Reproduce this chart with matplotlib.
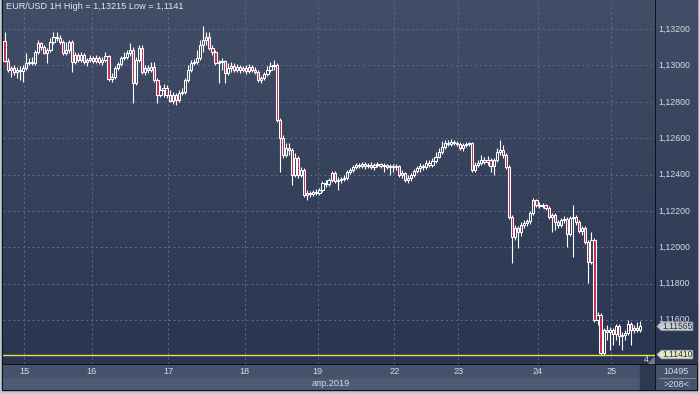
import numpy as np
import matplotlib
matplotlib.use("Agg")
import matplotlib.pyplot as plt
from matplotlib.patches import Rectangle, Polygon
from matplotlib.collections import LineCollection
from matplotlib.colors import LinearSegmentedColormap

# ---------------- data (prices in points, 1e-5) ----------------
opens = [113134,113024,112975,112986,112964,112975,112969,112986,113013,113019,
113013,113074,113123,113101,113068,113085,113129,113156,113151,113129,
113068,113085,113129,113019,113057,113030,113057,113019,113030,113041,
113024,113041,113019,113030,113052,112925,112936,112986,113008,113041,
113046,113068,113085,112903,113030,113096,112964,112986,112975,112991,
112920,112837,112865,112876,112837,112804,112837,112810,112848,112854,
112920,112975,113013,113019,113041,113112,113140,113156,113096,113074,
113013,113019,113024,112958,112986,112997,112975,112991,112975,112986,
112969,112991,112975,112964,112920,112931,112953,112975,112997,113002,
112700,112601,112507,112546,112535,112397,112491,112397,112425,112287,
112298,112293,112304,112298,112315,112353,112348,112370,112408,112364,
112370,112375,112381,112414,112425,112441,112452,112447,112458,112447,
112452,112441,112452,112458,112447,112452,112441,112447,112441,112447,
112397,112408,112370,112381,112397,112419,112436,112447,112441,112463,
112452,112474,112496,112524,112551,112573,112568,112579,112573,112568,
112546,112562,112568,112573,112425,112452,112463,112480,112469,112480,
112447,112480,112524,112535,112507,112441,112166,112056,112106,112084,
112122,112133,112144,112188,112260,112232,112227,112232,112216,112166,
112177,112139,112122,112150,112155,112073,112161,112166,112139,112089,
112106,112029,111919,112040,111600,111627,111418,111545,111534,111545,
111523,111567,111512,111517,111528,111578,111545,111556,111545]

closes = [113024,112975,112986,112964,112975,112969,112986,113013,113019,113013,
113074,113123,113101,113068,113085,113129,113156,113151,113129,113068,
113085,113129,113019,113057,113030,113057,113019,113030,113041,113024,
113041,113019,113030,113052,112925,112936,112986,113008,113041,113046,
113068,113085,112903,113030,113096,112964,112986,112975,112991,112920,
112837,112865,112876,112837,112804,112837,112810,112848,112854,112920,
112975,113013,113019,113041,113112,113140,113156,113096,113074,113013,
113019,113024,112958,112986,112997,112975,112991,112975,112986,112969,
112991,112975,112964,112920,112931,112953,112975,112997,113002,112700,
112601,112507,112546,112535,112397,112491,112397,112425,112287,112298,
112293,112304,112298,112315,112353,112348,112370,112408,112364,112370,
112375,112381,112414,112425,112441,112452,112447,112458,112447,112452,
112441,112452,112458,112447,112452,112441,112447,112441,112447,112397,
112408,112370,112381,112397,112419,112436,112447,112441,112463,112452,
112474,112496,112524,112551,112573,112568,112579,112573,112568,112546,
112562,112568,112573,112425,112452,112463,112480,112469,112480,112447,
112480,112524,112535,112507,112441,112166,112056,112106,112084,112122,
112133,112144,112188,112260,112232,112227,112232,112216,112166,112177,
112139,112122,112150,112155,112073,112161,112166,112139,112089,112106,
112029,111919,112040,111600,111627,111418,111545,111534,111545,111523,
111567,111512,111517,111528,111578,111545,111556,111545,111565]

highs = [113184,113041,112997,113002,112991,112997,113002,113068,113041,113046,
113085,113140,113129,113112,113096,113151,113184,113184,113168,113140,
113129,113140,113140,113074,113068,113074,113068,113041,113057,113052,
113057,113052,113046,113074,113057,112958,112997,113019,113052,113074,
113085,113123,113101,113046,113112,113112,113002,113002,113019,113019,
112931,112892,112898,112892,112865,112854,112848,112865,112876,112931,
113002,113030,113035,113085,113140,113215,113184,113184,113112,113085,
113030,113041,113030,113013,113019,113013,113008,113002,112997,113002,
113008,113002,112991,112975,112942,112964,112997,113019,113030,113013,
112711,112617,112573,112573,112546,112518,112502,112441,112436,112315,
112309,112315,112320,112326,112364,112370,112381,112419,112419,112386,
112386,112397,112425,112436,112452,112463,112463,112469,112469,112463,
112469,112463,112469,112463,112463,112458,112458,112458,112458,112452,
112425,112414,112397,112408,112430,112447,112463,112458,112480,112480,
112491,112524,112546,112584,112590,112590,112595,112590,112584,112579,
112573,112579,112579,112579,112469,112480,112507,112496,112502,112491,
112491,112546,112590,112562,112518,112452,112177,112122,112117,112139,
112150,112155,112199,112271,112265,112249,112243,112238,112227,112188,
112188,112150,112161,112172,112166,112172,112232,112177,112150,112117,
112117,112040,112084,112051,111644,111638,111556,111572,111561,111556,
111578,111578,111534,111545,111600,111589,111572,111589,111594]

lows = [113019,112964,112936,112947,112931,112920,112909,112975,113002,113002,
113002,113063,113085,113063,113013,113074,113118,113134,113118,113057,
113057,113068,112964,113008,113019,113019,113008,112997,113019,113013,
113013,113008,113002,113019,112914,112909,112925,112975,112997,113030,
113035,113052,112793,112892,113019,112953,112947,112958,112964,112909,
112793,112826,112826,112821,112799,112788,112782,112799,112837,112843,
112909,112964,113002,113008,113030,113074,113112,113085,113057,113002,
112903,112975,112903,112947,112964,112964,112964,112958,112964,112953,
112958,112964,112953,112909,112903,112920,112942,112964,112975,112689,
112414,112491,112496,112507,112342,112386,112381,112386,112276,112260,
112276,112282,112287,112287,112304,112331,112337,112359,112353,112315,
112353,112364,112370,112403,112414,112430,112436,112436,112430,112436,
112430,112425,112441,112436,112414,112430,112397,112414,112425,112386,
112381,112359,112353,112364,112386,112408,112414,112425,112430,112441,
112441,112463,112491,112513,112540,112557,112557,112562,112557,112535,
112529,112551,112557,112414,112414,112441,112452,112458,112452,112414,
112397,112469,112507,112491,112430,112155,111913,112040,111996,112062,
112106,112117,112128,112177,112221,112216,112216,112205,112155,112084,
112095,112106,112111,112133,112001,112062,111946,112122,112078,112067,
112018,111803,111908,111589,111572,111410,111410,111490,111435,111462,
111490,111462,111435,111490,111517,111462,111528,111534,111534]

day_labels = ['15', '16', '17', '18', '19', '22', '23', '24', '25']
day_start_bar = [7, 29, 54, 79, 103, 128, 149, 175, 199]
month_label = 'апр.2019'
price_ticks = [1.132, 1.130, 1.128, 1.126, 1.124, 1.122, 1.120, 1.118, 1.116]
symbol = 'EUR/USD 1H'
volume_text = '10495'
bars_text = '>208<'

# ---------------- helpers ----------------
O = np.array(opens) / 1e5
C = np.array(closes) / 1e5
Hh = np.array(highs) / 1e5
Ll = np.array(lows) / 1e5
n = len(O)
x = np.arange(n)

def fmt(v, nd=5):
    return f"{v:.{nd}f}".replace('.', ',')

def fmt_short(v):
    return f"{v:.5f}".rstrip('0').replace('.', ',')

W, H = 699, 394
def px(x0, y0, x1, y1):
    return [x0 / W, 1 - y1 / H, (x1 - x0) / W, (y1 - y0) / H]

plt.rcParams['font.family'] = ['Liberation Sans', 'DejaVu Sans']
TXT = '#d6dbe4'
BG_TOP = '#424d67'
BG_BOT = '#2a3651'
RED = '#c42a55'
GRID = '#5d6b85'

fig = plt.figure(figsize=(W / 100, H / 100), dpi=100, facecolor='#c4c8d0')
fig.add_artist(Rectangle((2 / W, 1 - 390 / H), 695 / W, 390 / H,
                         transform=fig.transFigure, color='#0e1219', zorder=0))

cmap = LinearSegmentedColormap.from_list('bg', [BG_BOT, BG_TOP])
grad = np.linspace(0, 1, 256).reshape(-1, 1)

YLIM = (1.11358, 1.13360)
XLIM = (-0.52, 212.8)

def clean(a):
    a.set_xticks([]); a.set_yticks([])
    for s in a.spines.values():
        s.set_visible(False)

# main plot
ax = fig.add_axes(px(3, 0, 655, 364))
ax.imshow(grad, extent=[0, 1, 0, 1], transform=ax.transAxes, aspect='auto',
          cmap=cmap, origin='lower', zorder=0)
clean(ax)
for v in price_ticks:
    ax.axhline(v, color=GRID, lw=0.7, ls=(0, (2.2, 2.8)), zorder=1)
for b in day_start_bar:
    ax.axvline(b - 0.5, color=GRID, lw=0.7, ls=(0, (2.2, 2.8)), zorder=1)

top_body = np.maximum(O, C)
bot_body = np.minimum(O, C)
segs = [[(i, Hh[i]), (i, top_body[i])] for i in range(n)] + \
       [[(i, bot_body[i]), (i, Ll[i])] for i in range(n)]
ax.add_collection(LineCollection(segs, colors='white', linewidths=0.8, zorder=2))
up = C >= O
dn = ~up
ax.bar(x[up], np.maximum(C[up] - O[up], 0.00001), bottom=O[up], width=0.72,
       facecolor='none', edgecolor='white', linewidth=0.75, zorder=3)
ax.bar(x[dn], O[dn] - C[dn], bottom=C[dn], width=0.72,
       facecolor=RED, edgecolor='white', linewidth=0.75, zorder=3)

low_v = Ll.min()
high_v = Hh.max()
last_v = C[-1]
ax.axhline(low_v, color='#e2e644', lw=1.0, zorder=4)
ax.set_xlim(*XLIM); ax.set_ylim(*YLIM)
ax.text(0.004, 0.995, f"{symbol} High = {fmt(high_v)} Low = {fmt_short(low_v)}",
        transform=ax.transAxes, ha='left', va='top', fontsize=6.6, color='#e2e6ee', zorder=6)
fig.text(646 / W, 1 - 359 / H, '4', ha='center', va='center', fontsize=6.3, color=TXT)
fig.add_artist(Polygon([(654 / W, 1 - 357 / H), (654 / W, 1 - 363 / H), (648 / W, 1 - 363 / H)],
                       closed=True, transform=fig.transFigure, color='#6d7a94', zorder=5))

# price axis panel
pa = fig.add_axes(px(656, 0, 697, 364))
pa.imshow(grad, extent=[0, 1, 0, 1], transform=pa.transAxes, aspect='auto',
          cmap=cmap, origin='lower', zorder=0)
clean(pa)
pa.set_xlim(0, 1); pa.set_ylim(*YLIM)
for v in price_ticks:
    yy = v + (0.00004 if abs(v - last_v) < 0.0006 else 0.0)
    pa.text(0.06, yy, fmt(v), ha='left', va='center', fontsize=6.3, color=TXT, zorder=2)

def tag(v, fc, text):
    hh = 0.00024
    pts = [(0.02, v), (0.13, v + hh), (0.9, v + hh), (0.9, v - hh), (0.13, v - hh)]
    pa.add_patch(Polygon(pts, closed=True, facecolor=fc, edgecolor='#8c93a0', lw=0.5, zorder=4))
    pa.text(0.53, v, text, ha='center', va='center', fontsize=6.2, color='#2a2d33', zorder=5)

tag(last_v, '#c9cdd5', fmt(last_v))
tag(low_v, '#e6e5c6', fmt(low_v))

# time panel
ta = fig.add_axes(px(3, 365, 655, 390))
clean(ta)
ta.set_xlim(*XLIM); ta.set_ylim(0, 1)
ta.add_patch(Rectangle((0, 0.5), 1, 0.5, transform=ta.transAxes, color='#46516b', zorder=0))
ta.add_patch(Rectangle((0, 0), 1, 0.5, transform=ta.transAxes, color='#4e5973', zorder=0))
ta.add_patch(Rectangle((637 / 652, 0), 15 / 652, 1, transform=ta.transAxes, color='#2e394f', zorder=1))
for b, lab in zip(day_start_bar, day_labels):
    ta.text(b - 0.5, 0.76, lab, ha='center', va='center', fontsize=6.6, color=TXT)
ta.text(0.502, 0.24, month_label, transform=ta.transAxes, ha='center', va='center',
        fontsize=6.6, color=TXT)

# corner box
ca = fig.add_axes(px(656, 365, 697, 390))
clean(ca)
ca.set_facecolor('#46516b')
ca.set_xlim(0, 1); ca.set_ylim(0, 1)
ca.plot([0.08, 0.95], [0.5, 0.5], color='#8891a4', lw=0.6)
ca.text(0.5, 0.76, volume_text, ha='center', va='center', fontsize=6.6, color=TXT)
ca.text(0.5, 0.22, bars_text, ha='center', va='center', fontsize=6.6, color=TXT)

fig.savefig('out.png', dpi=100, facecolor=fig.get_facecolor())
